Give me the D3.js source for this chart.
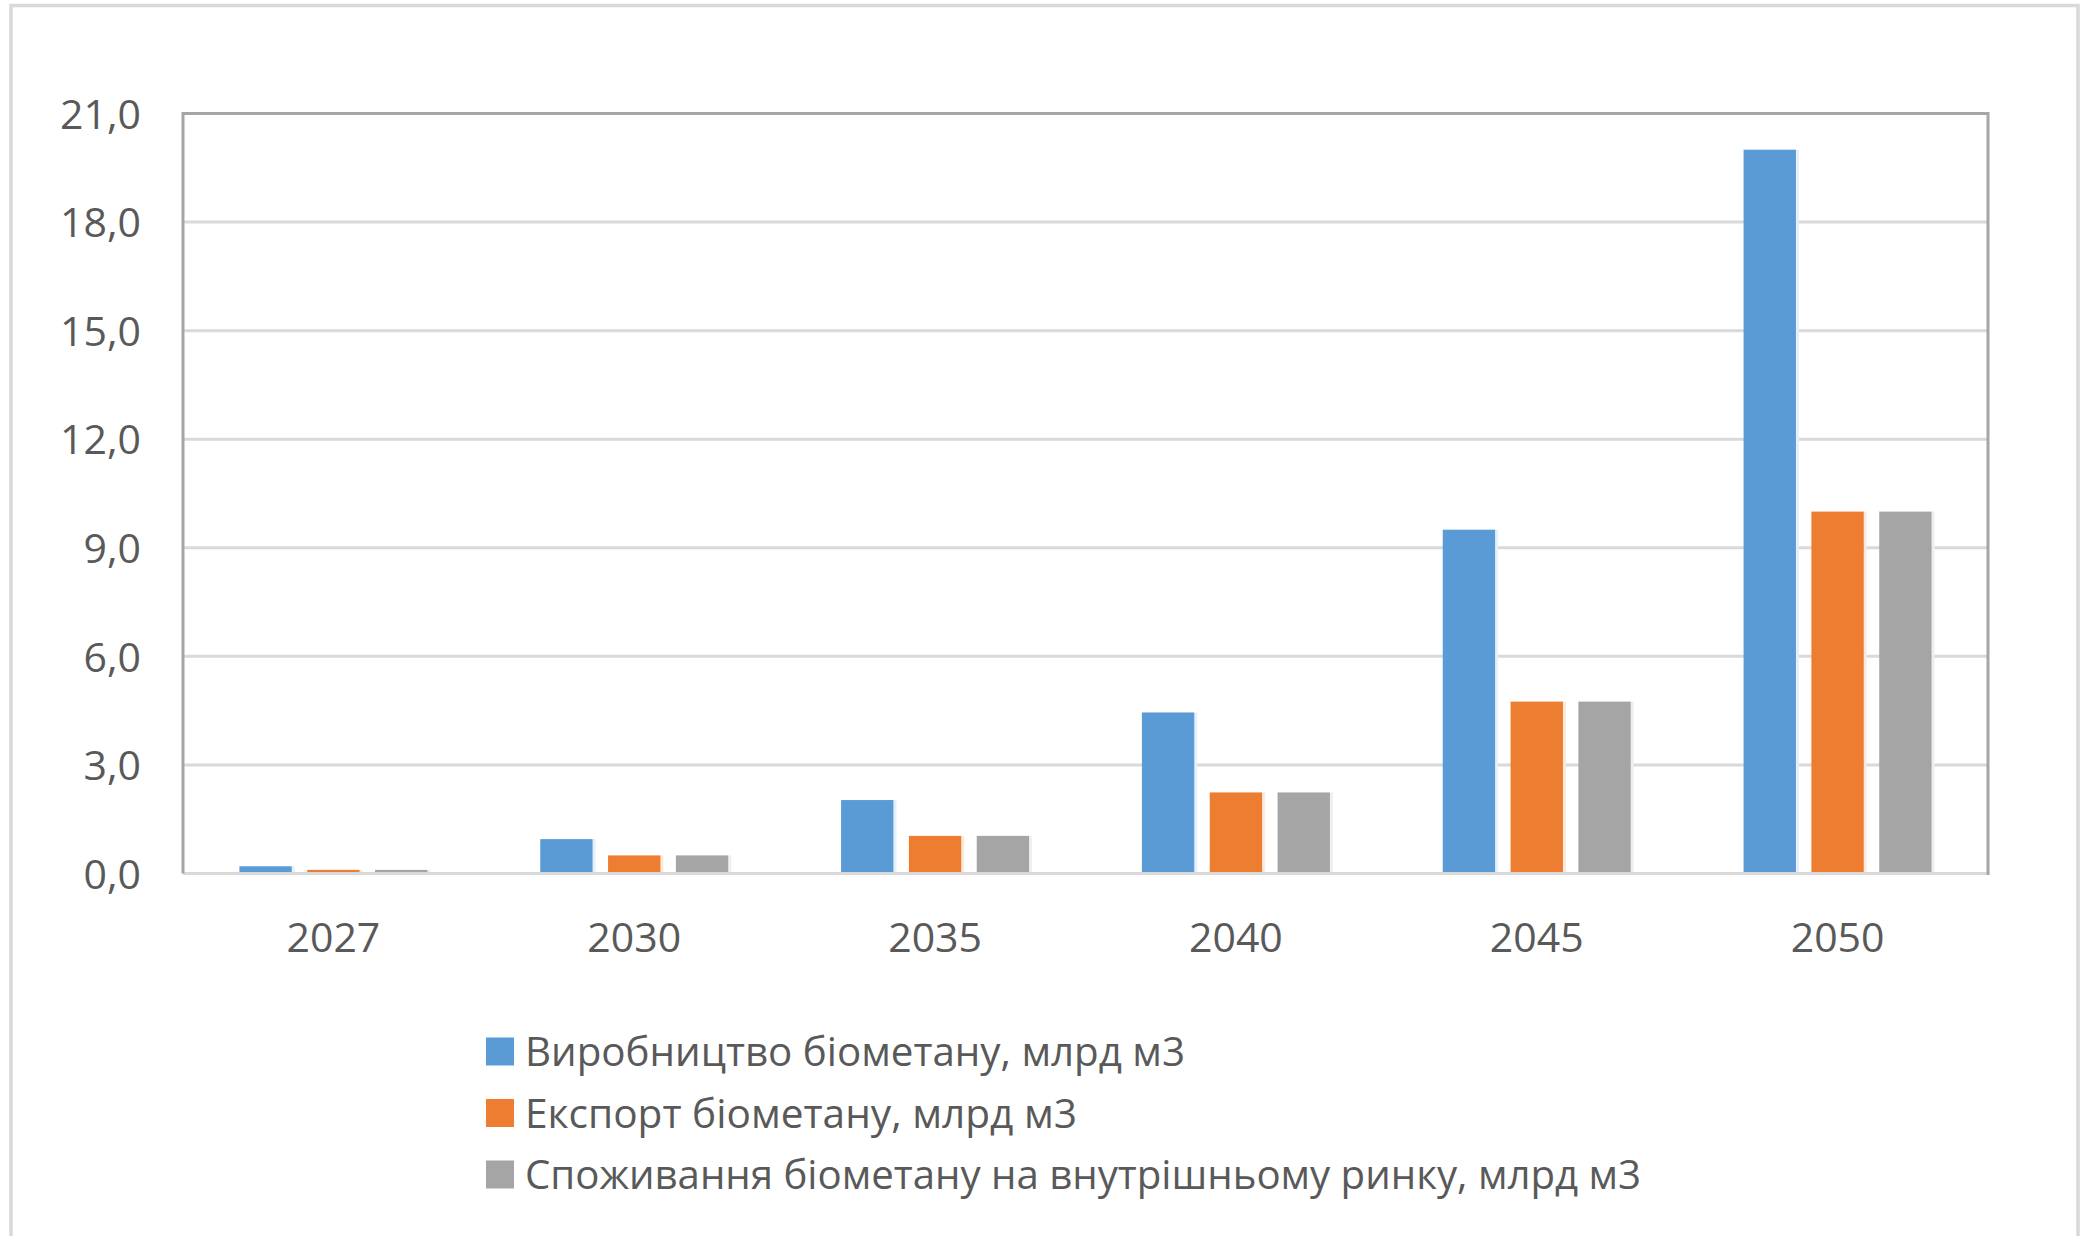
<!DOCTYPE html>
<html>
<head>
<meta charset="utf-8">
<script src="https://cdn.jsdelivr.net/npm/d3@7/dist/d3.min.js"></script>
<style>
  html, body { margin: 0; padding: 0; background: #ffffff; }
  svg { display: block; }
  text { font-family: "Open Sans", sans-serif; fill: #595959; }
</style>
</head>
<body>
<svg id="chart" width="2090" height="1236"></svg>
<script>
const years = ["2027", "2030", "2035", "2040", "2045", "2050"];
const seriesNames = [
  "Виробництво біометану, млрд м3",
  "Експорт біометану, млрд м3",
  "Споживання біометану на внутрішньому ринку, млрд м3"
];
const production = [0.2, 0.95, 2.03, 4.45, 9.5, 20.0];
const exportVals = [0.1, 0.5, 1.04, 2.24, 4.75, 10.0];
const domestic = [0.1, 0.5, 1.04, 2.24, 4.75, 10.0];
const yTicks = [0, 3, 6, 9, 12, 15, 18, 21];
const colors = ["#5b9bd5", "#ed7d31", "#a5a5a5"];
const edgeColors = ["#e6f0fa", "#fbe9de", "#efefef"];

const seriesValues = [production, exportVals, domestic];

const svg = d3.select("#chart");
const W = 2090, H = 1236;
const plot = { left: 183, right: 1988, top: 113.5, bottom: 873.5 };

// outer chart border
svg.append("rect")
  .attr("x", 11).attr("y", 5.5)
  .attr("width", 2078 - 11).attr("height", 1300)
  .attr("fill", "#ffffff")
  .attr("stroke", "#d9d9d9").attr("stroke-width", 3.5);

const x0 = d3.scaleBand().domain(years)
  .range([plot.left, plot.right])
  .paddingInner(0.375).paddingOuter(0.1875);
const x1 = d3.scaleBand().domain(d3.range(3))
  .range([0, x0.bandwidth()])
  .paddingInner(0.228).paddingOuter(0);
const y = d3.scaleLinear().domain([0, 21]).range([plot.bottom, plot.top]);

// gridlines
const grid = svg.append("g");
grid.selectAll("line").data(yTicks.filter(d => d > 0 && d < 21)).join("line")
  .attr("x1", plot.left).attr("x2", plot.right)
  .attr("y1", d => y(d)).attr("y2", d => y(d))
  .attr("stroke", "#d9d9d9").attr("stroke-width", 3);

// bars
const groups = svg.append("g").selectAll("g").data(years).join("g")
  .attr("transform", d => `translate(${x0(d)},0)`);
groups.each(function(yr, i) {
  const g = d3.select(this);
  seriesValues.forEach((vals, s) => {
    const v = vals[i];
    g.append("rect")
      .attr("x", x1(s) + x1.bandwidth())
      .attr("y", y(v))
      .attr("width", 3)
      .attr("height", y(0) - y(v))
      .attr("fill", edgeColors[s]);
    g.append("rect")
      .attr("x", x1(s))
      .attr("y", y(v))
      .attr("width", x1.bandwidth())
      .attr("height", y(0) - y(v))
      .attr("fill", colors[s]);
  });
});

// zero axis line
svg.append("line")
  .attr("x1", plot.left).attr("x2", plot.right + 1.5)
  .attr("y1", y(0)).attr("y2", y(0))
  .attr("stroke", "#d9d9d9").attr("stroke-width", 3);

// plot frame: top, left, right
svg.append("path")
  .attr("d", `M${plot.left},${y(0)} V${plot.top} H${plot.right} V${y(0) + 1.5}`)
  .attr("fill", "none")
  .attr("stroke", "#a6a6a6").attr("stroke-width", 3);

// y axis labels
const yAxis = d3.axisLeft(y).tickValues(yTicks)
  .tickFormat(d => d3.format(".1f")(d).replace(".", ","))
  .tickSize(0).tickPadding(0);
const ya = svg.append("g").attr("transform", `translate(141,0)`).call(yAxis);
ya.select(".domain").remove();
ya.selectAll("text")
  .attr("font-family", "Open Sans, sans-serif")
  .attr("font-size", 41).attr("fill", "#595959")
  .attr("dy", "0.36em");

// x axis labels
const xAxis = d3.axisBottom(x0).tickSize(0).tickPadding(0);
const xa = svg.append("g").attr("transform", `translate(0,937)`).call(xAxis);
xa.select(".domain").remove();
xa.selectAll("text")
  .attr("font-family", "Open Sans, sans-serif")
  .attr("font-size", 41).attr("fill", "#595959")
  .attr("dy", "0.36em");

// legend
const legendRows = [1051.5, 1113, 1174.5];
const legendWidths = [660, 552, 1116];
const legend = svg.append("g");
seriesNames.forEach((name, s) => {
  legend.append("rect")
    .attr("x", 486).attr("y", legendRows[s] - 14)
    .attr("width", 28).attr("height", 28)
    .attr("fill", colors[s]);
  legend.append("text")
    .attr("x", 525).attr("y", legendRows[s])
    .attr("dy", "0.36em")
    .attr("font-size", 41)
    .attr("textLength", legendWidths[s])
    .attr("lengthAdjust", "spacingAndGlyphs")
    .text(name);
});
</script>
</body>
</html>
